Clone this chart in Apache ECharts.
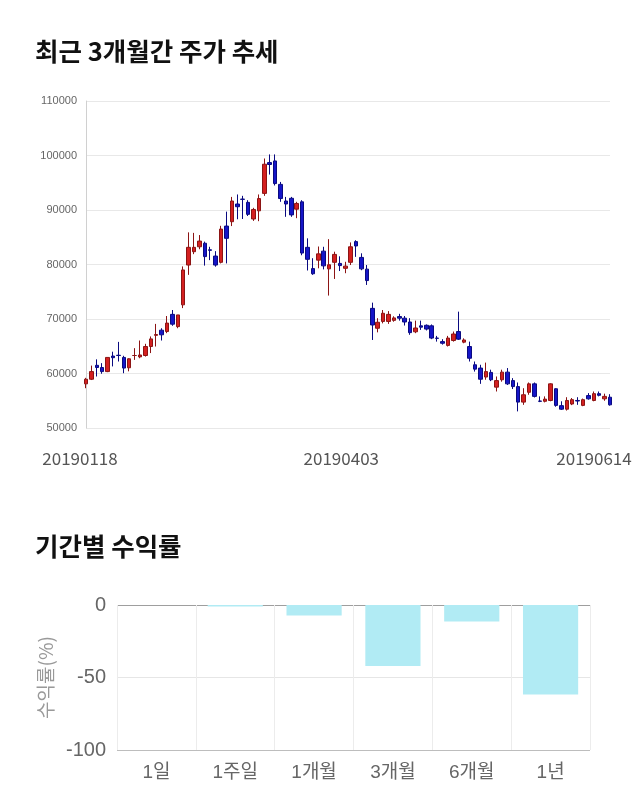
<!DOCTYPE html>
<html><head><meta charset="utf-8">
<script src="https://cdn.jsdelivr.net/npm/echarts/dist/echarts.min.js"></script>
<style>html,body{margin:0;padding:0;background:#fff}#c{width:640px;height:810px}</style>
</head><body><div id="c"></div>
<script>
const dates = [
 '20190118','20190121','20190122','20190123','20190124','20190125','20190128','20190129','20190130','20190131',
 '20190207','20190208','20190211','20190212','20190213','20190214','20190215','20190218','20190219','20190220',
 '20190221','20190222','20190225','20190226','20190227','20190228',
 '20190304','20190305','20190306','20190307','20190308','20190311','20190312','20190313','20190314','20190315',
 '20190318','20190319','20190320','20190321','20190322','20190325','20190326','20190327','20190328','20190329',
 '20190401','20190402','20190403','20190404','20190405','20190408','20190409','20190410','20190411','20190412',
 '20190415','20190416','20190417','20190418','20190419','20190422','20190423','20190424','20190425','20190426',
 '20190429','20190430',
 '20190502','20190503','20190507','20190508','20190509','20190510','20190513','20190514','20190515','20190516',
 '20190517','20190520','20190521','20190522','20190523','20190524','20190527','20190528','20190529','20190530','20190531',
 '20190603','20190604','20190605','20190607','20190610','20190611','20190612','20190613','20190614'
];
const opens = [
 58100,58950,61500,61100,60350,63200,63350,62950,61050,63300,
 63050,63300,64950,67000,67950,67700,70850,68600,72600,79900,
 82350,83250,83900,82700,81550,80400,87050,87850,91100,92000,
 91400,88350,89850,93050,98700,99000,94700,91650,92150,90150,
 91500,83150,79250,80800,82450,79200,80400,80200,79300,80400,
 84200,81300,79150,71950,68300,69550,69550,69750,70450,70150,
 69450,67650,68750,68850,68750,66500,65850,65150,66050,67700,
 65750,64950,61600,61000,59350,60200,57500,58850,60250,58700,
 57600,54750,56550,58100,54950,54900,55050,57200,54100,53450,
 54400,55050,54150,55950,55050,56300,55350,55650
];
const closes = [
 58950,60350,61100,60350,62950,62900,63300,61000,62700,63300,
 63400,64950,66350,67150,67100,69250,69050,70750,79000,83150,
 83150,84300,81450,82600,79900,86500,84800,91650,90600,91950,
 89200,90100,92100,98400,98350,94850,92100,91100,89100,91200,
 82100,80950,78300,81950,79750,79950,81850,79800,79700,83250,
 83400,79200,77050,68900,69400,71050,70850,70200,70150,69450,
 67500,68350,68500,68150,66500,66450,65550,66500,67250,66300,
 66150,62800,60800,58950,60350,58850,58700,60250,58100,57600,
 54750,56100,58100,55800,54900,55300,58100,54150,53450,55050,
 55200,54950,55200,55350,56300,56000,55800,54250
];
const lows = [
 57300,58800,59450,59950,60250,61300,62200,60050,60400,62500,
 62800,63100,63750,64950,66050,67400,68750,68300,72000,78100,
 81900,82800,79800,80800,79600,80200,80200,87050,88300,88350,
 88900,88000,87950,92600,96500,94500,91500,88750,88750,88500,
 81700,78900,78100,79300,79100,74300,77350,78800,78400,79900,
 81400,78950,76250,66150,67550,69200,69100,69500,69700,68800,
 67100,67400,68000,67900,66300,65850,65300,64950,65850,66150,
 65550,62200,60350,58100,58850,58600,56700,58500,57900,57150,
 53050,54250,56100,55600,54750,54700,54900,53900,53300,53200,
 54200,54250,54000,55200,54900,55800,55000,54100
];
const highs = [
 59200,61450,62600,61900,62950,64000,65800,63250,62800,64650,
 66050,65450,66800,69100,68300,70550,71650,70750,79650,85900,
 85800,85400,84200,83250,82450,87100,89700,92400,92850,92600,
 91800,90400,92850,99450,100200,100200,95150,92400,92400,91500,
 91800,84800,81150,83300,83250,84650,82350,81500,80500,84050,
 84450,82050,79900,73000,70150,71650,71450,70500,70950,70550,
 70150,69700,69700,69000,69000,66900,66300,66900,67700,71350,
 66450,65850,62200,61600,62000,60700,59450,60700,61000,59150,
 58350,57300,58350,58350,55800,55800,58200,57300,54900,55650,
 55500,55650,55400,56400,56700,56700,56300,56200
];
const dateLabelIndex = [0, 48, 97];
const priceMin = 50000, priceMax = 110000, priceStep = 10000;

const periods = ['1일','1주일','1개월','3개월','6개월','1년'];
const returns = [0, -1.1, -7.2, -42, -11.3, -61.8];
const returnMin = -100, returnMax = 0, returnStep = 50;

const candles = dates.map((d, i) => [opens[i], closes[i], lows[i], highs[i]]);
const KR = "'Noto Sans CJK KR', 'Noto Sans', sans-serif";
const LAT = "'Liberation Sans', 'Noto Sans CJK KR', sans-serif";

const chart = echarts.init(document.getElementById('c'), null, {renderer: 'canvas'});
chart.setOption({
  animation: false,
  backgroundColor: '#fff',
  title: [
    {text: '최근 3개월간 주가 추세', left: 30, top: 34, textStyle: {fontFamily: KR, fontWeight: 'bold', fontSize: 25.5, color: '#111'}},
    {text: '기간별 수익률', left: 30, top: 529, textStyle: {fontFamily: KR, fontWeight: 'bold', fontSize: 25.5, color: '#111'}}
  ],
  grid: [
    {left: 86, right: 30, top: 101, height: 327},
    {left: 117, right: 50, top: 605, height: 145}
  ],
  xAxis: [
    {type: 'category', gridIndex: 0, data: dates, boundaryGap: false,
     axisLine: {show: false}, axisTick: {show: false}, splitLine: {show: false},
     axisLabel: {
       interval: (i) => dateLabelIndex.includes(i),
       margin: 22, fontFamily: KR, fontSize: 17, color: '#555',
       formatter: (v, i) => i === dateLabelIndex[0] ? '{a|' + v + '}' : (i === dateLabelIndex[1] ? '{b|' + v + '}' : '{c|' + v + '}'),
       rich: {
         a: {fontFamily: KR, fontSize: 17, color: '#555', padding: [0, 12, 0, 0]},
         b: {fontFamily: KR, fontSize: 17, color: '#555', padding: [0, 8, 0, 0]},
         c: {fontFamily: KR, fontSize: 17, color: '#555', padding: [0, 32, 0, 0]}
       }
     }},
    {type: 'category', gridIndex: 1, data: periods,
     axisLine: {show: false},
     axisTick: {show: true, length: 12, lineStyle: {color: '#ececec'}},
     splitLine: {show: true, lineStyle: {color: '#ececec'}},
     axisLabel: {fontFamily: LAT, fontSize: 19, color: '#666', margin: 13}}
  ],
  yAxis: [
    {type: 'value', gridIndex: 0, min: priceMin, max: priceMax, interval: priceStep,
     axisLine: {show: true, lineStyle: {color: '#d0d0d0'}}, axisTick: {show: false},
     splitLine: {lineStyle: {color: '#e8e8e8'}},
     axisLabel: {fontFamily: LAT, fontSize: 11, color: '#666', margin: 9, formatter: (v) => String(v)}},
    {type: 'value', gridIndex: 1, min: returnMin, max: returnMax, interval: returnStep,
     name: '수익률(%)', nameLocation: 'middle', nameGap: 62,
     nameTextStyle: {fontFamily: KR, fontSize: 19, color: '#999'},
     axisLine: {show: false}, axisTick: {show: false},
     splitLine: {lineStyle: {color: ['#bdbdbd', '#e6e6e6', '#9e9e9e']}},
     axisLabel: {fontFamily: LAT, fontSize: 20, color: '#666', margin: 11}}
  ],
  series: [
    {type: 'candlestick', xAxisIndex: 0, yAxisIndex: 0, data: candles, barWidth: 4,
     itemStyle: {color: '#d42020', color0: '#1515c8', borderColor: '#8c1414', borderColor0: '#0a0a80', borderWidth: 1}},
    {type: 'bar', xAxisIndex: 1, yAxisIndex: 1, data: returns, barWidth: '70%',
     itemStyle: {color: '#b1ebf4', borderWidth: 0}}
  ]
});
</script>
</body></html>
